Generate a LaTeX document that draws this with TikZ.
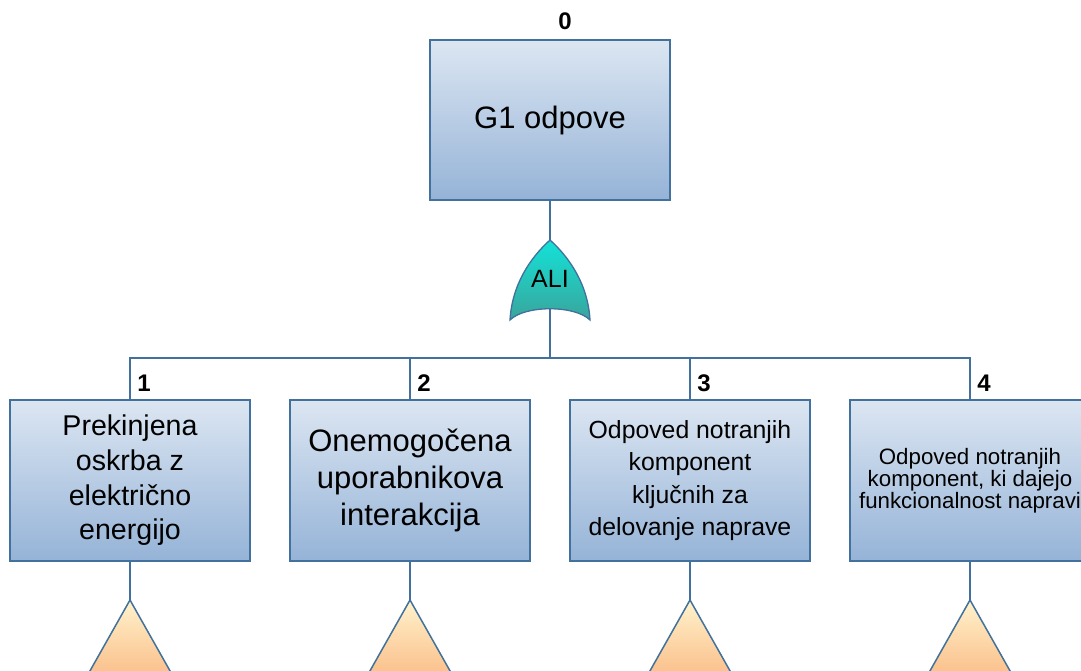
\documentclass[tikz,border=0pt]{standalone}
\usepackage{fontspec}
\setmainfont{Liberation Sans}
\definecolor{edgeblue}{HTML}{41719C}
\definecolor{boxtop}{HTML}{DCE6F2}
\definecolor{boxbot}{HTML}{95B3D7}
\definecolor{gatetop}{HTML}{12E2D8}
\definecolor{gatebot}{HTML}{3AA59C}
\definecolor{tritop}{HTML}{FFF2CC}
\definecolor{tribot}{HTML}{FAB982}
\begin{document}
\begin{tikzpicture}[x=1pt,y=-1pt,
  event/.style={draw=edgeblue,line width=1.5pt,top color=boxtop,bottom color=boxbot,
    minimum width=240pt,minimum height=161pt,inner sep=0pt,align=center,text=black},
  wire/.style={draw=edgeblue,line width=1.6pt},
  numlabel/.style={font=\fontsize{24}{26}\selectfont\bfseries,inner sep=0pt},
  gatestyle/.style={draw=edgeblue,line width=1.3pt,top color=gatetop,bottom color=gatebot},
  tristyle/.style={draw=edgeblue,line width=1.5pt,top color=tritop,bottom color=tribot}]
\useasboundingbox (0,0) rectangle (1081,671);
\clip (0,0) rectangle (1081,671);

% top event
\node[event,minimum height=160pt,font=\fontsize{31}{36}\selectfont] (top) at (550,120) {G1 odpove};
\node[numlabel] (n0) at (565,21) {0};

% OR gate
\coordinate (gtop) at (550,240);
\coordinate (gbot) at (550,309);
\draw[gatestyle] (gtop) .. controls (530,258) and (512,285) .. (510,320)
  .. controls (525,305) and (575,305) .. (590,320)
  .. controls (588,285) and (570,258) .. (gtop) -- cycle;
\node[font=\fontsize{25}{27}\selectfont,inner sep=0pt] (ali) at (550,279) {ALI};

% child events
\node[event,font=\fontsize{28.6}{34.7}\selectfont] (e1) at (130,480.5) {Prekinjena\\oskrba z\\električno\\energijo};
\node[event,font=\fontsize{31}{37}\selectfont] (e2) at (410,480.5) {Onemogočena\\uporabnikova\\interakcija};
\node[event,font=\fontsize{24.8}{32.3}\selectfont] (e3) at (690,480.5) {Odpoved notranjih\\komponent\\ključnih za\\delovanje naprave};
\node[event,font=\fontsize{22.3}{21.8}\selectfont] (e4) at (970,480.5) {Odpoved notranjih\\komponent, ki dajejo\\funkcionalnost napravi};

\node[numlabel] (n1) at (144,383) {1};
\node[numlabel] (n2) at (424,383) {2};
\node[numlabel] (n3) at (704,383) {3};
\node[numlabel] (n4) at (984,383) {4};

% connectors
\coordinate (bus) at (550,358);
\draw[wire] (top.south) -- (gtop);
\draw[wire] (gbot) -- (bus);
\draw[wire] (e1.north) |- (bus) -| (e4.north);
\draw[wire] (e2.north) -- (e2.north |- bus);
\draw[wire] (e3.north) -- (e3.north |- bus);

% transfer triangles
\foreach \i/\x in {1/130,2/410,3/690,4/970}{
  \coordinate (a\i) at (\x,600);
  \draw[wire] (e\i.south) -- (a\i);
  \draw[tristyle] (a\i) -- ++(-48,85) -- ++(96,0) -- cycle;
}
\end{tikzpicture}
\end{document}
